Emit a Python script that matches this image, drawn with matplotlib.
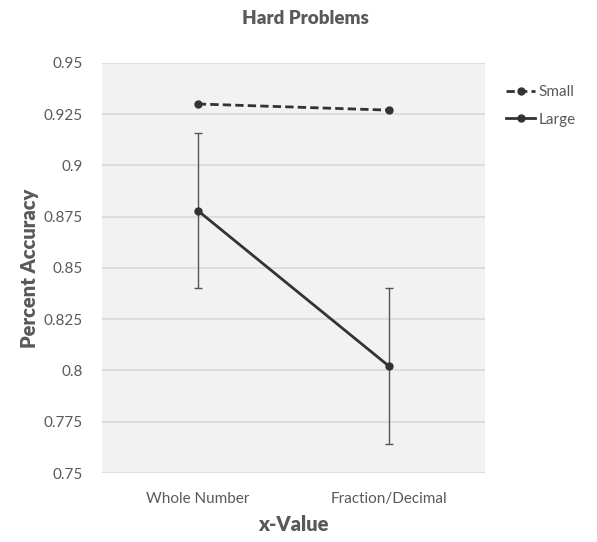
import matplotlib.pyplot as plt

plt.rcParams['font.family'] = ['Lato', 'DejaVu Sans']

categories = ["Whole Number", "Fraction/Decimal"]
small = [0.930, 0.927]
large = [0.878, 0.802]
large_err = [0.038, 0.038]
yticks = [0.75, 0.775, 0.8, 0.825, 0.85, 0.875, 0.9, 0.925, 0.95]
ytick_labels = ["0.75", "0.775", "0.8", "0.825", "0.85", "0.875", "0.9", "0.925", "0.95"]

text_col = '#595959'
line_col = '#333333'

fig = plt.figure(figsize=(5.97, 5.42), dpi=100)
ax = fig.add_axes([0.1709, 0.1273, 0.6415, 0.7565])
ax.set_facecolor('#f2f2f2')

x = list(range(len(categories)))
ax.plot(x, small, linestyle=(0, (3, 1.5)), color=line_col, lw=2, marker='o', ms=5, label='Small', zorder=3)
ax.plot(x, large, color=line_col, lw=2, marker='o', ms=5, label='Large', zorder=3)
ax.errorbar(x, large, yerr=large_err, fmt='none', ecolor='#555555', elinewidth=1,
            capsize=3, capthick=1, zorder=2)

ax.set_xlim(-0.5, 1.5)
ax.set_ylim(0.75, 0.95)
ax.set_yticks(yticks)
ax.set_yticklabels(ytick_labels)
ax.set_xticks(x)
ax.set_xticklabels(categories)
ax.yaxis.grid(True, color='#d9d9d9', lw=1.2)
ax.set_axisbelow(True)
for s in ax.spines.values():
    s.set_visible(False)
ax.tick_params(length=0, labelsize=11, labelcolor=text_col)
ax.tick_params(axis='y', pad=14)
ax.tick_params(axis='x', pad=14)

ax.set_title("Hard Problems", fontsize=13.5, fontweight='heavy', color=text_col, pad=28, x=0.53)
ax.set_ylabel("Percent Accuracy", fontsize=14.5, fontweight='heavy', color=text_col, labelpad=3)
ax.set_xlabel("x-Value", fontsize=14.5, fontweight='heavy', color=text_col, labelpad=6)

leg = ax.legend(loc='upper left', bbox_to_anchor=(1.02, 0.98), frameon=False, fontsize=11,
                handlelength=1.9, handletextpad=0.2, labelspacing=0.9)
for t in leg.get_texts():
    t.set_color(text_col)

plt.savefig('out.png', dpi=100)
